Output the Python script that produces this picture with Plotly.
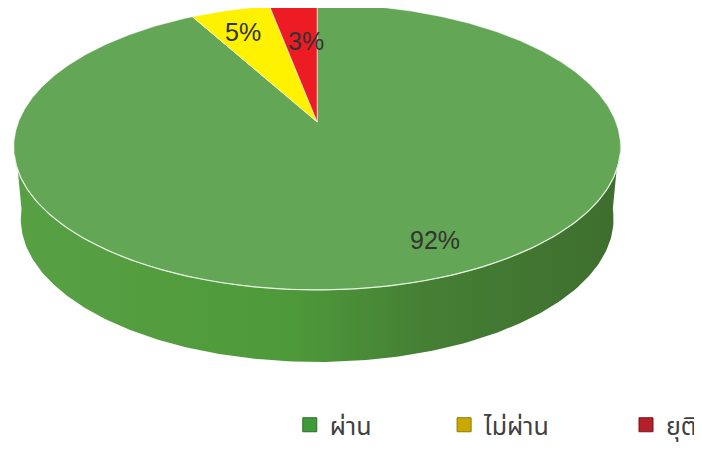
import numpy as np
import plotly.graph_objects as go

# ---- data ----
labels = ["ผ่าน", "ไม่ผ่าน", "ยุติ"]
values = [92, 5, 3]
top_colors = ["#63a655", "#fff200", "#ed1c24"]
legend_colors = ["#3f9a3b", "#c9a800", "#b3202a"]
legend_edges = ["#2d6e2a", "#8f7800", "#7d1118"]

# ---- layout / geometry constants (page pixel coordinates) ----
W, H = 702, 451
OFF = 8                      # page margin around the plot div
CX, CY = 318.5, 122.0        # projected pie centre
A, B, K = 300.0, 138.6, 0.1748  # perspective ellipse parameters
DEPTH = 72.0
BOTTOM_SCALE = 0.977         # bottom rim is slightly narrower (perspective)
LABEL_XY = [(437, 240), (244, 32), (307, 41)]
LEGEND_SQ_X = [311, 466, 649]
LEGEND_Y = 425

def proj(theta_deg, r=1.0, dy=0.0, sx=1.0):
    t = np.radians(theta_deg)
    u = r * np.sin(t)
    v = r * np.cos(t)
    d = 1 + K * v
    return CX + sx * A * u / d, CY - B * v / d + dy

total = float(sum(values))
bounds = np.concatenate([[0.0], np.cumsum(values) / total * 360.0])
ext = np.degrees(np.arccos(-K))
vis_lo, vis_hi = ext - 4, 360.0 - ext + 4

fig = go.Figure()

# side walls
for i, lab in enumerate(labels):
    a, b = max(bounds[i], vis_lo), min(bounds[i + 1], vis_hi)
    if b <= a:
        continue
    th = np.linspace(a, b, 200)
    xt, yt = proj(th)
    xb, yb = proj(th[::-1], dy=DEPTH, sx=BOTTOM_SCALE)
    fig.add_trace(go.Scatter(
        x=np.concatenate([xt, xb, xt[:1]]), y=np.concatenate([yt, yb, yt[:1]]),
        mode="lines", fill="toself", line=dict(width=0, color=top_colors[i]),
        fillgradient=dict(type="horizontal", colorscale=[
            [0.0, "#58a044"], [0.45, "#4e9a3a"], [0.68, "#457f34"], [1.0, "#3e6e2e"]]),
        showlegend=False, hoverinfo="skip"))

# top faces
for i, lab in enumerate(labels):
    th = np.linspace(bounds[i], bounds[i + 1], max(int((bounds[i + 1] - bounds[i]) * 2), 10))
    xs, ys = proj(th)
    fig.add_trace(go.Scatter(
        x=np.concatenate([[CX], xs, [CX]]), y=np.concatenate([[CY], ys, [CY]]),
        mode="lines", fill="toself", fillcolor=top_colors[i],
        line=dict(width=0.8, color="rgba(255,255,255,0.7)"),
        name=lab, showlegend=False, hoverinfo="skip"))

# front rim highlight
th = np.linspace(ext + 3, 360.0 - ext - 3, 200)
xr, yr = proj(th)
fig.add_trace(go.Scatter(x=xr, y=yr, mode="lines",
                         line=dict(width=1.2, color="rgba(235,245,230,0.85)"),
                         showlegend=False, hoverinfo="skip"))

# data labels
for i, v in enumerate(values):
    fig.add_annotation(x=LABEL_XY[i][0], y=LABEL_XY[i][1], xref="x", yref="y",
                       text=f"{round(v / total * 100)}%", showarrow=False,
                       font=dict(size=25, color="#333333", family="Liberation Sans"))

# legend entries
legend_names = ["legend", "legend2", "legend3"]
for i, lab in enumerate(labels):
    fig.add_trace(go.Scatter(
        x=[None], y=[None], mode="markers", name=lab, legend=legend_names[i],
        marker=dict(symbol="square", size=14, color=legend_colors[i],
                    line=dict(width=1, color=legend_edges[i]))))

PW, PH = W - OFF, H - OFF
leg_common = dict(orientation="h", yanchor="middle", y=1 - (LEGEND_Y - OFF) / PH,
                  xanchor="left", bgcolor="rgba(0,0,0,0)",
                  font=dict(size=25, color="#404040",
                            family="Noto Sans Thai, Noto Sans, Liberation Sans, sans-serif"))
legs = {}
for i, nm in enumerate(legend_names):
    legs[nm] = dict(x=(LEGEND_SQ_X[i] - 20 - OFF) / PW, **leg_common)

fig.update_layout(
    width=PW, height=PH, margin=dict(l=0, r=0, t=0, b=0),
    paper_bgcolor="white", plot_bgcolor="white",
    xaxis=dict(range=[OFF, W], visible=False, fixedrange=True),
    yaxis=dict(range=[H, OFF], visible=False, fixedrange=True),
    **legs,
)

fig.write_html("out.html")
